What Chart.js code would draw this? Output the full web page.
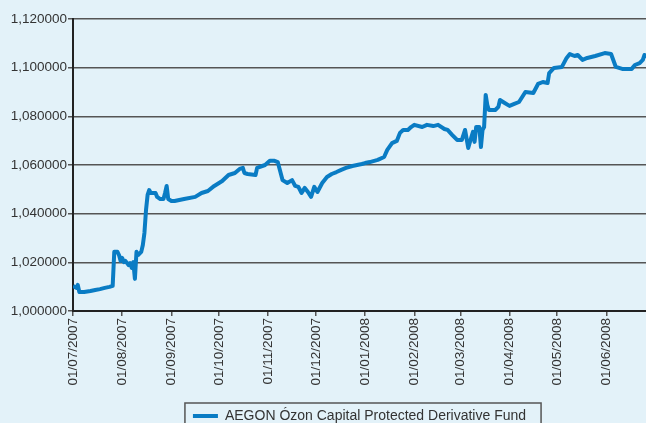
<!DOCTYPE html>
<html>
<head>
<meta charset="utf-8">
<script src="https://cdn.jsdelivr.net/npm/chart.js@4/dist/chart.umd.min.js"></script>
<style>
  html, body { margin: 0; padding: 0; background: #e3f2f9; }
  #wrap { width: 646px; height: 423px; }
</style>
</head>
<body>
<div id="wrap"><canvas id="fundChart" width="646" height="423"></canvas></div>
<script>
// days counted from 01/07/2007
const days = [0,2,3,4,7,11,14,17,20,23,25,26,28,29,30,31,32,33,35,36,37,38,39,40,41,43,44,45,46,47,48,49,52,53,55,57,58,59,60,62,64,70,77,81,85,89,94,98,102,105,107,108,110,115,116,121,124,127,129,130,132,135,138,140,142,144,146,148,150,152,154,157,160,163,166,169,172,176,179,182,184,187,192,196,198,201,204,206,208,211,213,215,220,223,227,230,234,236,239,242,245,247,249,251,252,253,254,256,257,258,259,260,261,262,266,268,269,272,275,278,281,285,290,293,296,299,300,303,308,311,313,316,318,321,324,329,335,339,342,346,352,354,357,359,360,361];

const fundValues = [1.0103,1.0095,1.0107,1.0078,1.0078,1.0082,1.0086,1.0090,1.0095,1.0099,1.0103,1.0243,1.0243,1.0230,1.0206,1.0218,1.0201,1.0206,1.0189,1.0197,1.0177,1.0201,1.0132,1.0243,1.0230,1.0243,1.0271,1.0321,1.0415,1.0477,1.0497,1.0485,1.0485,1.0469,1.0460,1.0460,1.0485,1.0514,1.0460,1.0452,1.0452,1.0460,1.0469,1.0485,1.0493,1.0514,1.0534,1.0559,1.0567,1.0584,1.0588,1.0567,1.0563,1.0559,1.0588,1.0600,1.0617,1.0617,1.0612,1.0588,1.0538,1.0526,1.0538,1.0514,1.0510,1.0485,1.0506,1.0489,1.0469,1.0510,1.0489,1.0526,1.0551,1.0563,1.0571,1.0580,1.0588,1.0596,1.0600,1.0604,1.0608,1.0612,1.0621,1.0633,1.0662,1.0690,1.0699,1.0732,1.0744,1.0744,1.0756,1.0765,1.0756,1.0765,1.0760,1.0765,1.0748,1.0744,1.0723,1.0703,1.0703,1.0744,1.0670,1.0715,1.0736,1.0695,1.0756,1.0756,1.0674,1.0744,1.0756,1.0888,1.0847,1.0826,1.0826,1.0839,1.0867,1.0855,1.0843,1.0851,1.0859,1.0900,1.0896,1.0933,1.0941,1.0937,1.0978,1.0999,1.1003,1.1040,1.1056,1.1048,1.1052,1.1032,1.1040,1.1048,1.1060,1.1056,1.1003,1.0995,1.0995,1.1011,1.1019,1.1032,1.1052,1.1040];

const monthDays = [0,31,62,92,123,153,184,215,244,275,305,336];
const monthLabels = ['01/07/2007','01/08/2007','01/09/2007','01/10/2007','01/11/2007','01/12/2007',
                     '01/01/2008','01/02/2008','01/03/2008','01/04/2008','01/05/2008','01/06/2008'];

const seriesName = 'AEGON Ózon Capital Protected Derivative Fund';
const lineColor = '#0a7cc4';
const gridColor = '#555555';
const textColor = '#333333';

const bgPlugin = {
    id: 'bg',
    beforeDraw(chart) {
        const ctx = chart.ctx;
        ctx.save();
        ctx.fillStyle = '#e3f2f9';
        ctx.fillRect(0, 0, chart.width, chart.height);
        ctx.restore();
    }
};

// centre the legend under the plot area instead of the whole canvas
const legendPlace = {
    id: 'legendPlace',
    afterLayout(chart) {
        const lg = chart.legend;
        lg.left = chart.chartArea.left;
        lg.right = chart.chartArea.right;
        lg.top = 399;
        lg.bottom = 440;
    },
    afterDraw(chart) {
        const hb = chart.legend.legendHitBoxes[0];
        if (!hb) return;
        const ctx = chart.ctx;
        ctx.save();
        ctx.strokeStyle = gridColor;
        ctx.lineWidth = 1.5;
        ctx.strokeRect(hb.left - 8, 403, hb.width + 23, 40);
        ctx.restore();
    }
};

const ctx = document.getElementById('fundChart').getContext('2d');
new Chart(ctx, {
    type: 'line',
    data: {
        datasets: [{
            label: seriesName,
            data: days.map((d, i) => ({ x: d, y: fundValues[i] })),
            borderColor: lineColor,
            backgroundColor: lineColor,
            borderWidth: 4,
            pointRadius: 0,
            tension: 0,
            borderJoinStyle: 'round'
        }]
    },
    options: {
        responsive: false,
        animation: false,
        layout: { padding: { top: 19, left: 0, right: 0, bottom: 0 } },
        plugins: {
            tooltip: { enabled: false },
            legend: {
                position: 'bottom',
                labels: {
                    color: textColor,
                    font: { family: 'Liberation Sans, Arial, sans-serif', size: 14 },
                    boxWidth: 25,
                    boxHeight: 4,
                    padding: 10,
                    generateLabels(chart) {
                        return Chart.defaults.plugins.legend.labels.generateLabels(chart)
                            .map(l => Object.assign(l, { lineWidth: 0 }));
                    }
                }
            }
        },
        scales: {
            x: {
                type: 'linear',
                min: 0,
                max: 361,
                afterBuildTicks(scale) {
                    scale.ticks = monthDays.map(v => ({ value: v }));
                },
                afterFit(scale) { scale.height = 78; },
                ticks: {
                    autoSkip: false,
                    maxRotation: 90,
                    minRotation: 90,
                    padding: 2,
                    color: textColor,
                    font: { family: 'Liberation Sans, Arial, sans-serif', size: 13.5 },
                    callback(value) {
                        const i = monthDays.indexOf(value);
                        return i >= 0 ? monthLabels[i] : '';
                    }
                },
                grid: {
                    drawOnChartArea: false,
                    drawTicks: true,
                    tickLength: 5,
                    color: gridColor,
                    lineWidth: 1.5
                },
                border: { color: '#222222', width: 2 }
            },
            y: {
                min: 1.0,
                max: 1.12,
                afterFit(scale) { scale.width = 73; },
                ticks: {
                    stepSize: 0.02,
                    padding: 1,
                    color: textColor,
                    font: { family: 'Liberation Sans, Arial, sans-serif', size: 13.5 },
                    callback(value) {
                        return value.toFixed(6).replace('.', ',');
                    }
                },
                grid: {
                    color: gridColor,
                    lineWidth: 1.5,
                    tickLength: 5
                },
                border: { color: '#222222', width: 2 }
            }
        }
    },
    plugins: [bgPlugin, legendPlace]
});
</script>
</body>
</html>
